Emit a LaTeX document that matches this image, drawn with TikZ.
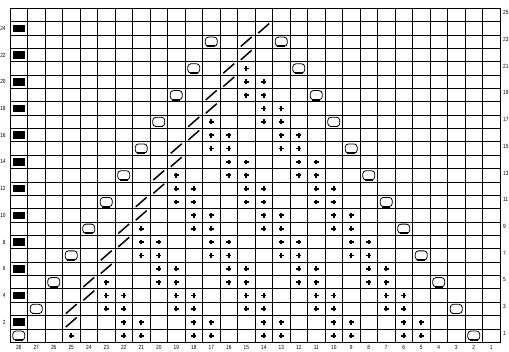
\documentclass[tikz,border=0pt]{standalone}
\usepackage{fontspec}
\setmainfont{Liberation Sans}
\begin{document}
\begin{tikzpicture}[x=1pt,y=1pt,
  gridline/.style={line width=0.8pt, black},
  lbl/.style={font=\fontsize{6}{6}\selectfont, inner sep=0pt, xscale=0.8, transform shape},
  blk/.pic={\fill[black] (-6pt,-3.8pt) rectangle (6pt,3.8pt);},
  ovl/.pic={\draw[line width=0.8pt, rounded corners=3.2pt] (-6pt,-4.6pt) rectangle (6pt,4.6pt);
            \draw[line width=1.8pt] (-3.8pt,-4.6pt) -- (3.8pt,-4.6pt);},
  sls/.pic={\draw[line width=1.5pt] (-5.5pt,-4.8pt) -- (5.5pt,4.8pt);},
  pls/.pic={\draw[line width=1.8pt] (-2.4pt,0pt) -- (2.4pt,0pt) (0pt,-2.4pt) -- (0pt,2.4pt);}
]
\useasboundingbox (0,0) rectangle (509,352);
\fill[white] (0,0) rectangle (509,352);
% grid
\begin{scope}[shift={(10,9.7)}]
  \draw[gridline] (0,0) grid[xstep=17.5,ystep=13.36] (490,334);
  \draw[gridline] (0,0) rectangle (490,334);
\end{scope}
% pluses
\foreach \r/\cols in {
  1/{3,6,7,10,11,14,15,18,19,22,23},
  2/{6,7,10,11,14,15,18,19,22,23},
  3/{5,6,9,10,13,14,17,18,21,22},
  4/{5,6,9,10,13,14,17,18,21,22},
  5/{5,8,9,12,13,16,17,20,21},
  6/{8,9,12,13,16,17,20,21},
  7/{7,8,11,12,15,16,19,20},
  8/{7,8,11,12,15,16,19,20},
  9/{7,10,11,14,15,18,19},
  10/{10,11,14,15,18,19},
  11/{9,10,13,14,17,18},
  12/{9,10,13,14,17,18},
  13/{9,12,13,16,17},
  14/{12,13,16,17},
  15/{11,12,15,16},
  16/{11,12,15,16},
  17/{11,14,15},
  18/{14,15},
  19/{13,14},
  20/{13,14},
  21/{13}}{
  \foreach \L in \cols {
    \pic at ({10+17.5*(\L+0.5)},{9.7+13.36*(\r-0.5)}) {pls};
  }
}
% slashes
\foreach \r in {2,...,24}{
  \pgfmathtruncatemacro{\L}{floor(\r/2)+2}
  \pic at ({10+17.5*(\L+0.5)},{9.7+13.36*(\r-0.5)}) {sls};
}
% ovals
\foreach \r in {1,3,...,23}{
  \pgfmathtruncatemacro{\La}{(\r-1)/2}
  \pgfmathtruncatemacro{\Lb}{26-(\r-1)/2}
  \pic at ({10+17.5*(\La+0.5)},{9.7+13.36*(\r-0.5)}) {ovl};
  \pic at ({10+17.5*(\Lb+0.5)},{9.7+13.36*(\r-0.5)}) {ovl};
}
% black squares
\foreach \r in {2,4,...,24}{
  \pic at ({10+17.5*0.5},{9.7+13.36*(\r-0.5)}) {blk};
}
% row labels
\foreach \r in {2,4,...,24}{
  \node[lbl, anchor=east] (l\r) at (5.8,{9.7+13.36*(\r-0.5)}) {\r};
}
\foreach \r in {1,3,...,25}{
  \node[lbl, anchor=west] (r\r) at (503,{9.7+13.36*(\r-0.5)+2.3}) {\r};
}
% column labels
\foreach \L in {0,...,27}{
  \pgfmathtruncatemacro{\n}{28-\L}
  \node[lbl, anchor=north] (b\L) at ({10+17.5*(\L+0.5)},6.8) {\n};
}
\end{tikzpicture}
\end{document}
